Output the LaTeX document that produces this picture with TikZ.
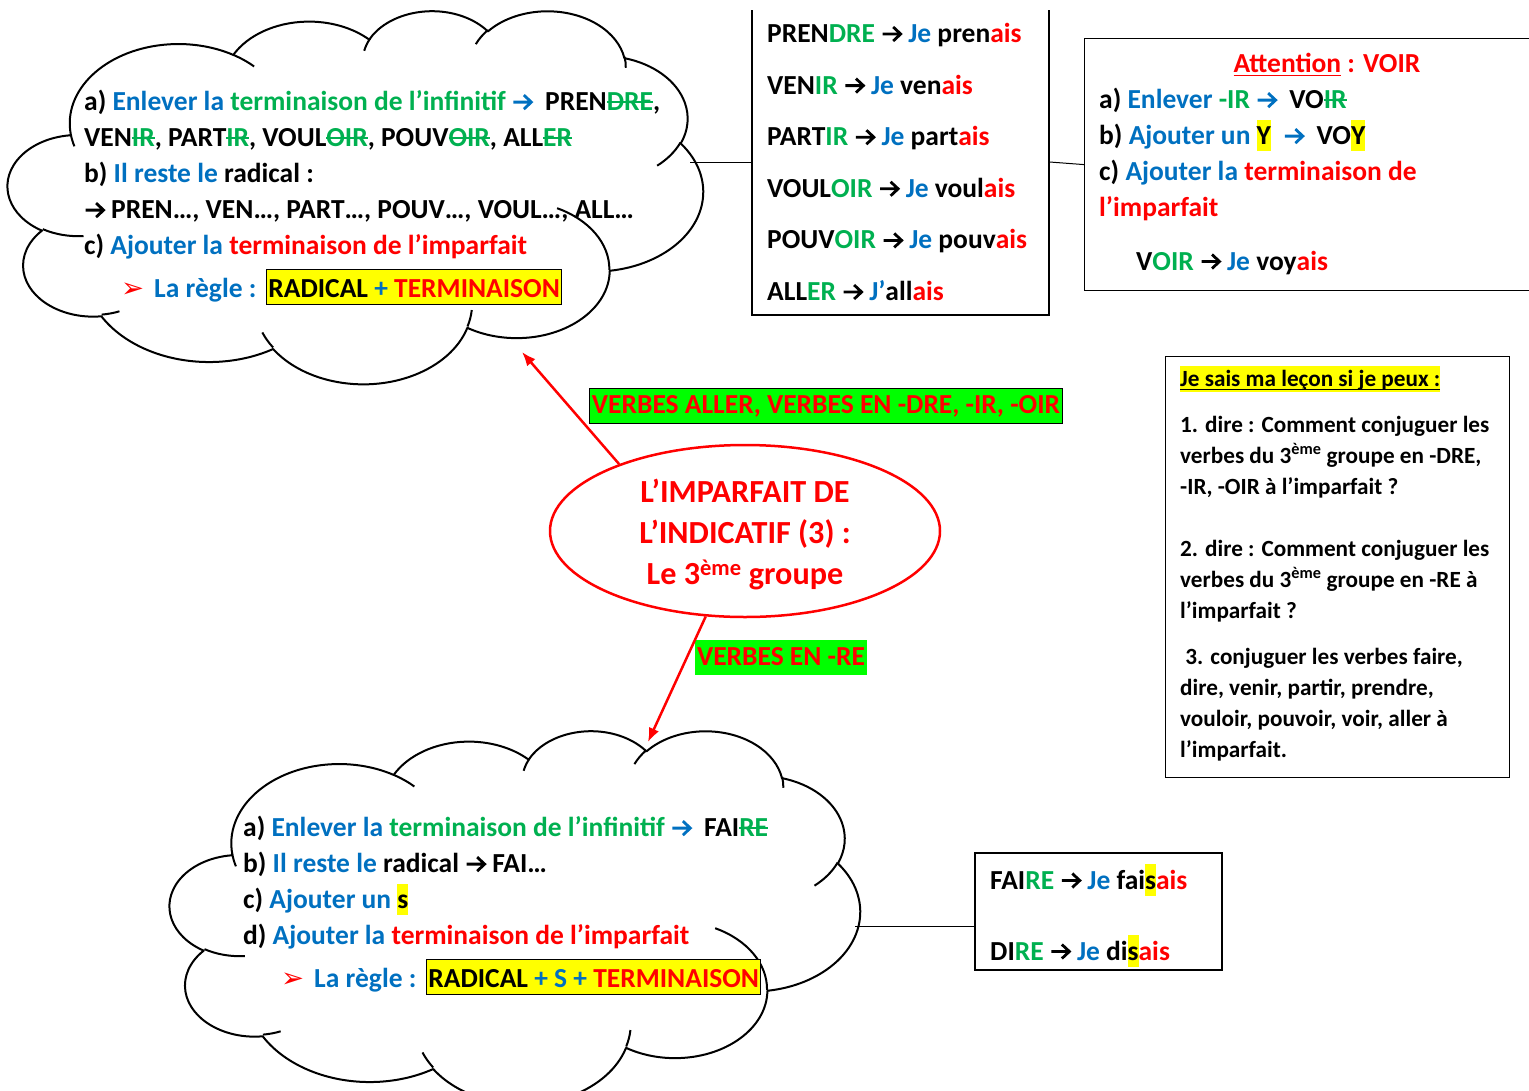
\documentclass[tikz,border=0pt]{standalone}
\usepackage{fontspec}
\setmainfont{Carlito}
\newfontfamily\symb{DejaVu Sans}
\usetikzlibrary{shapes,shapes.geometric,arrows.meta}

\definecolor{bleu}{RGB}{0,112,192}
\definecolor{vert}{RGB}{0,176,80}
\definecolor{rouge}{RGB}{255,0,0}
\definecolor{jaune}{RGB}{255,255,0}
\definecolor{fluo}{RGB}{0,255,0}

\newcommand\fl{\tikz[baseline=-8.5pt,x=1pt,y=1pt]\draw[line width=2.8pt,miter limit=4]
	(0,0) -- (18,0) (10.5,-7) -- (18,0) -- (10.5,7);}
\newcommand\puce{\textcolor{rouge}{\symb ➢}}
\newcommand\bl[1]{\textcolor{bleu}{#1}}
\newcommand\vt[1]{\textcolor{vert}{#1}}
\newcommand\rg[1]{\textcolor{rouge}{#1}}
% barre, souligne, surligne
\newcommand\barre[1]{\textcolor{vert}{\sbox0{#1}\rlap{\rule[0.28em]{\wd0}{1.8pt}}#1}}
\newcommand\souligne[1]{\sbox0{#1}\rlap{\rule[-0.16em]{\wd0}{1.5pt}}#1}
\newcommand\surligne[1]{{\setlength\fboxsep{0pt}\colorbox{jaune}{\rule[-0.25em]{0pt}{1.15em}#1}}}
\newcommand\regle[1]{{\setlength\fboxsep{1pt}\setlength\fboxrule{1pt}\fcolorbox{black}{jaune}{\rule[-6pt]{0pt}{32pt}#1}}}

% contour du nuage (43200/100 unites)
\newcommand\nuage{(39,143.7)
	arc[start angle=-187.75,end angle=-59.64,x radius=67.53,y radius=91.9]
	arc[start angle=-152.02,end angle=-45.46,x radius=53.33,y radius=72.67]
	arc[start angle=-153.49,end angle=-37.33,x radius=43.65,y radius=59.45]
	arc[start angle=-139.71,end angle=-10.21,x radius=48.57,y radius=65.95]
	arc[start angle=-74.77,end angle=23.21,x radius=53.33,y radius=72.73]
	arc[start angle=-37.52,end angle=81.86,x radius=67.75,y radius=92.2]
	arc[start angle=0.46,end angle=121.98,x radius=57.85,y radius=78.67]
	arc[start angle=16.84,end angle=146.21,x radius=67.52,y radius=92.15]
	arc[start angle=58.98,end angle=150.18,x radius=77.2,y radius=105.43]
	arc[start angle=-276.69,end angle=-136.92,x radius=43.6,y radius=59.18]
	arc[start angle=-239.64,end angle=-95.89,x radius=43.45,y radius=59.45] -- cycle}
\newcommand\plis{(46.93,261.77) arc[start angle=85.55,end angle=120.36,x radius=43.45,y radius=59.45]
	(69.28,348.99) arc[start angle=68.24,end angle=83.31,x radius=43.6,y radius=59.18]
	(164.78,390.9) arc[start angle=146.21,end angle=158.47,x radius=67.52,y radius=92.15]
	(288.27,347.51) arc[start angle=4.74,end angle=16.84,x radius=67.52,y radius=92.15]
	(341.29,229.54) arc[start angle=-64.03,end angle=0.46,x radius=57.85,y radius=78.67]
	(417.98,153.54) arc[start angle=23.21,end angle=49.65,x radius=53.33,y radius=72.73]
	(383.24,54.26) arc[start angle=-10.21,end angle=0.82,x radius=48.57,y radius=65.95]
	(290.78,39.52) arc[start angle=-156.29,end angle=-139.71,x radius=48.57,y radius=65.95]
	(221.41,47.2) arc[start angle=-167.73,end angle=-153.49,x radius=43.65,y radius=59.45]
	(140,51.92) arc[start angle=-59.64,end angle=-45.74,x radius=67.53,y radius=91.9]
	(41.27,157.89) arc[start angle=163.2,end angle=172.26,x radius=67.53,y radius=91.9]}

\begin{document}
\begin{tikzpicture}[x=1pt,y=-1pt,
	txt/.style={inner sep=0,font=\bfseries\fontsize{27.5}{36}\selectfont},
	bloc/.style={txt,anchor=north west,align=left,execute at begin node=\strut},
	ligne/.style={txt,anchor=base west},
	cadre/.style={inner sep=0,anchor=north west,minimum width=#1},
	trait/.style={line width=2pt,line join=round},
	boite/.style={draw,line width=1.2pt,inner sep=0},
	lien/.style={draw,line width=1pt},
	fleche/.style={draw=rouge,line width=2.5pt,-{Latex[length=14pt,width=11pt]}},
	etiquette/.style={txt,fill=fluo,text=rouge,inner xsep=2pt,minimum height=35pt}]
	\useasboundingbox (0,0) rectangle (1529,1090);
	\clip (0,10) rectangle (1529,1090);
	
	% les deux nuages
	\node[cadre=695pt,minimum height=373pt] (nuage1) at (8,10) {};
	\begin{scope}[shift={(nuage1.north west)},xscale=695/432,yscale=373/432]
		\draw[trait] \nuage;
		\draw[trait] \plis;
	\end{scope}
	\node[cadre=690pt,minimum height=373pt] (nuage2) at (170,730) {};
	\begin{scope}[shift={(nuage2.north west)},xscale=690/432,yscale=373/432]
		\draw[trait] \nuage;
		\draw[trait] \plis;
	\end{scope}
	
	\node[bloc] (regles1) at (84,90) {a) \bl{Enlever la} \vt{terminaison de l’infinitif} \bl{\fl}\ \ PREN\barre{DRE},\\
		VEN\barre{IR}, PART\barre{IR}, VOUL\barre{OIR}, POUV\barre{OIR}, ALL\barre{ER}\\
		b) \bl{Il reste le} radical :\\
		\fl\ PREN…, VEN…, PART…, POUV…, VOUL…, ALL…\\
		c) \bl{Ajouter la} \rg{terminaison de l’imparfait}};
	\node[ligne] (formule1) at (121,297) {\puce\hspace{10pt}\bl{La règle :}\hspace{10pt}\regle{RADICAL \bl{+} \rg{TERMINAISON}}};
	
	% tableau des verbes
	\node[boite,minimum width=297pt,minimum height=306pt] (tableau) at (900.5,162) {};
	\node[bloc,font=\bfseries\fontsize{27.5}{51.6}\selectfont] (verbes) at (767,23) {PREN\vt{DRE} \fl\ \bl{Je} pren\rg{ais}\\
		VEN\vt{IR} \fl\ \bl{Je} ven\rg{ais}\\
		PART\vt{IR} \fl\ \bl{Je} part\rg{ais}\\
		VOUL\vt{OIR} \fl\ \bl{Je} voul\rg{ais}\\
		POUV\vt{OIR} \fl\ \bl{Je} pouv\rg{ais}\\
		ALL\vt{ER} \fl\ \bl{J’}all\rg{ais}};
	
	% attention voir
	\node[boite,anchor=north west,minimum width=480pt,minimum height=252pt] (attention) at (1084,38) {};
	\node[txt,anchor=base] (titreVoir) at (1327,72) {\rg{\souligne{Attention} : VOIR}};
	\node[bloc] (etapesVoir) at (1099,88) {a) \bl{Enlever} \vt{-IR} \bl{\fl}\ \ VO\barre{IR}\\
		b) \bl{Ajouter un} \surligne{Y}\ \ \bl{\fl}\ \ VO\surligne{Y}\\
		c) \bl{Ajouter la} \rg{terminaison de}\\
		\rg{l’imparfait}};
	\node[ligne] (voyais) at (1136,270) {V\vt{OIR} \fl\ \bl{Je} voy\rg{ais}};
	
	% je sais ma lecon
	\node[boite,anchor=north west,minimum width=344pt,minimum height=421pt] (lecon) at (1165,356) {};
	\node[bloc,font=\bfseries\fontsize{23.2}{31}\selectfont] (questions) at (1180,365.5) {\surligne{\souligne{Je sais ma leçon si je peux :}}\\[15pt]
		1. dire : Comment conjuguer les\\
		verbes du 3\textsuperscript{ème} groupe en -DRE,\\
		-IR, -OIR à l’imparfait ?\\[31pt]
		2. dire : Comment conjuguer les\\
		verbes du 3\textsuperscript{ème} groupe en -RE à\\
		l’imparfait ?\\[15pt]
		\ 3. conjuguer les verbes faire,\\
		dire, venir, partir, prendre,\\
		vouloir, pouvoir, voir, aller à\\
		l’imparfait.};
	
	% titre
	\node[ellipse,draw=rouge,line width=2.5pt,minimum width=390pt,minimum height=172pt,inner sep=0] (titre) at (745,531) {};
	\node[align=center,text=rouge,inner sep=0,font=\bfseries\fontsize{32.2}{41}\selectfont]
		(titreTexte) at ([yshift=-4pt]titre.center) {L’IMPARFAIT DE\\L’INDICATIF (3) :\\Le 3\textsuperscript{ème} groupe};
	\node[etiquette,draw=black,line width=1pt] (groupeA) at (826,406) {VERBES ALLER, VERBES EN -DRE, -IR, -OIR};
	\node[etiquette] (groupeB) at (781,657) {VERBES EN -RE};
	
	% nuage du bas
	\node[bloc] (regles2) at (243,816) {a) \bl{Enlever la} \vt{terminaison de l’infinitif} \bl{\fl}\ \ FAI\barre{RE}\\
		b) \bl{Il reste le} radical \fl\ FAI…\\
		c) \bl{Ajouter un} \surligne{s}\\
		d) \bl{Ajouter la} \rg{terminaison de l’imparfait}};
	\node[ligne] (formule2) at (281,987) {\puce\hspace{10pt}\bl{La règle :}\hspace{10pt}\regle{RADICAL \bl{+ S +} \rg{TERMINAISON}}};
	
	\node[boite,minimum width=247pt,minimum height=117pt] (faire) at (1098.5,911.5) {};
	\node[ligne] (faisais) at (990,889) {FAI\vt{RE} \fl\ \bl{Je} fai\surligne{s}\rg{ais}};
	\node[ligne] (disais) at (990,960) {DI\vt{RE} \fl\ \bl{Je} di\surligne{s}\rg{ais}};
	
	% liens
	\coordinate (boutA) at (522,352);
	\coordinate (boutB) at (648,742);
	\draw[fleche] (titre.152) -- (boutA);
	\draw[fleche] (titre) -- (boutB);
	\draw[lien] ([xshift=-13pt]nuage1.east |- tableau.west) -- (tableau.west);
	\draw[lien] (tableau.east) -- (attention.west);
	\draw[lien] ([yshift=-15pt]faire.west) -- ([yshift=-15pt,xshift=-5pt]faire.west -| nuage2.east);
\end{tikzpicture}
\end{document}
